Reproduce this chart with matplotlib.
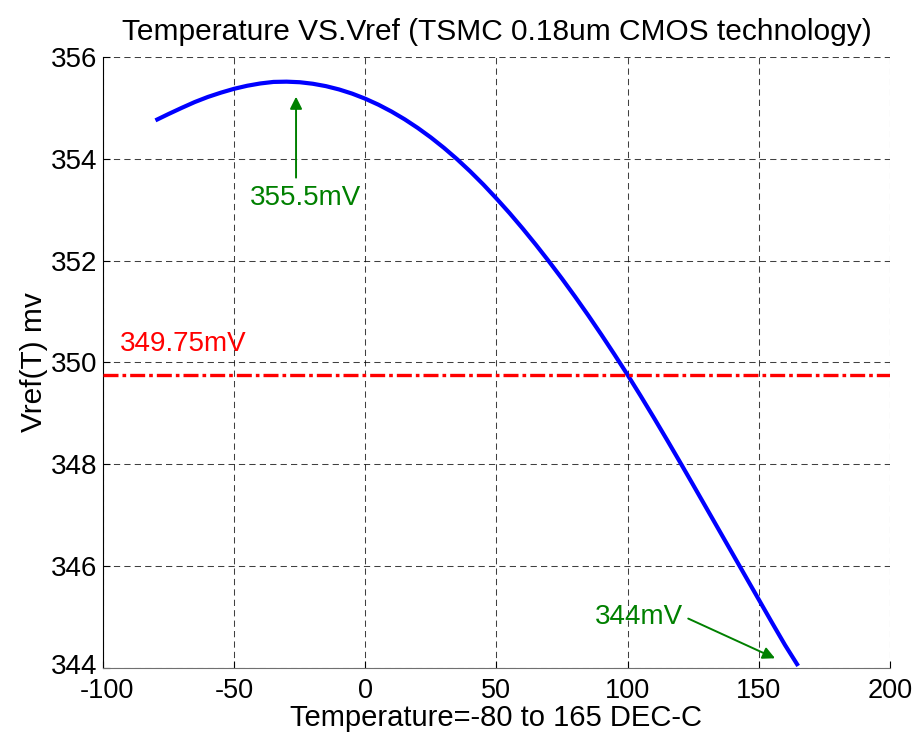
import numpy as np
import matplotlib
matplotlib.use("Agg")
import matplotlib.pyplot as plt
from matplotlib.transforms import ScaledTranslation

plt.rcParams['font.family'] = ['Liberation Sans', 'DejaVu Sans']
plt.rcParams['axes.unicode_minus'] = False

# temperature (deg C) and Vref (mV)
temp = list(range(-80, 170, 5))
vref = [354.755, 354.88, 355.00, 355.115, 355.215, 355.30, 355.375, 355.435,
        355.48, 355.51, 355.515, 355.504, 355.474, 355.427, 355.362, 355.28,
        355.18, 355.063, 354.928, 354.776, 354.606, 354.419, 354.214, 353.992,
        353.752, 353.495, 353.22, 352.933, 352.63, 352.314, 351.985, 351.644,
        351.29, 350.924, 350.545, 350.155, 349.755, 349.34, 348.915, 348.481,
        348.04, 347.593, 347.143, 346.693, 346.243, 345.793, 345.343, 344.893,
        344.45, 344.04]

ref_level = 349.75
peak_label = "355.5mV"
end_label = "344mV"
ref_label = "349.75mV"

fig = plt.figure(figsize=(9.21, 7.38), dpi=100)
ax = fig.add_axes([0.1118, 0.0949, 0.8545, 0.8279])

ax.plot(temp, vref, color='#0000ff', lw=3.0, solid_capstyle='butt',
        solid_joinstyle='round', zorder=3)
ax.axhline(ref_level, color='#ff0000', lw=2.4, linestyle=(0, (4.5, 1.2, 1.1, 1.2)), zorder=3)

ax.set_xlim(-100, 200)
ax.set_ylim(344, 356)
ax.set_xticks(np.arange(-100, 201, 50))
ax.set_yticks(np.arange(344, 357, 2))

ax.grid(True, color='k', lw=0.75, linestyle=(0, (6, 4)), alpha=0.75)
ax.tick_params(direction='in', length=5, width=0.8, labelsize=20, pad=4)
ax.tick_params(axis='x', pad=7, labelsize=19.5)
for s in ['top', 'right']:
    ax.spines[s].set_visible(False)
ax.spines['bottom'].set_color('#707070')
ax.spines['left'].set_color('k')

# nudge the bottom-left tick labels apart so they don't collide
lab = ax.get_yticklabels()[0]
lab.set_transform(lab.get_transform() + ScaledTranslation(0, 3 / 72, fig.dpi_scale_trans))
lab = ax.get_xticklabels()[0]
lab.set_transform(lab.get_transform() + ScaledTranslation(3 / 72, 0, fig.dpi_scale_trans))

ax.set_title("Temperature VS.Vref (TSMC 0.18um CMOS technology)", fontsize=21.5, pad=12)
ax.set_xlabel("Temperature=-80 to 165 DEC-C", fontsize=21, labelpad=0)
ax.set_ylabel("Vref(T) mv", fontsize=21.5, labelpad=2)

green = '#008000'
arrow = dict(arrowstyle='-|>', color=green, lw=1.4, mutation_scale=18,
             shrinkA=0, shrinkB=0)
ax.annotate("", xy=(-26.4, 355.22), xytext=(-26.4, 353.63), arrowprops=arrow)
ax.text(-44, 353.24, peak_label, fontsize=20, color=green, ha='left', va='center')

ax.annotate("", xy=(156.2, 344.19), xytext=(123.1, 344.97), arrowprops=arrow)
ax.text(87.6, 345.01, end_label, fontsize=20, color=green, ha='left', va='center')

ax.text(-93.5, 350.37, ref_label, fontsize=20, color='#ff0000', ha='left', va='center')

fig.savefig("out.png", dpi=100)
